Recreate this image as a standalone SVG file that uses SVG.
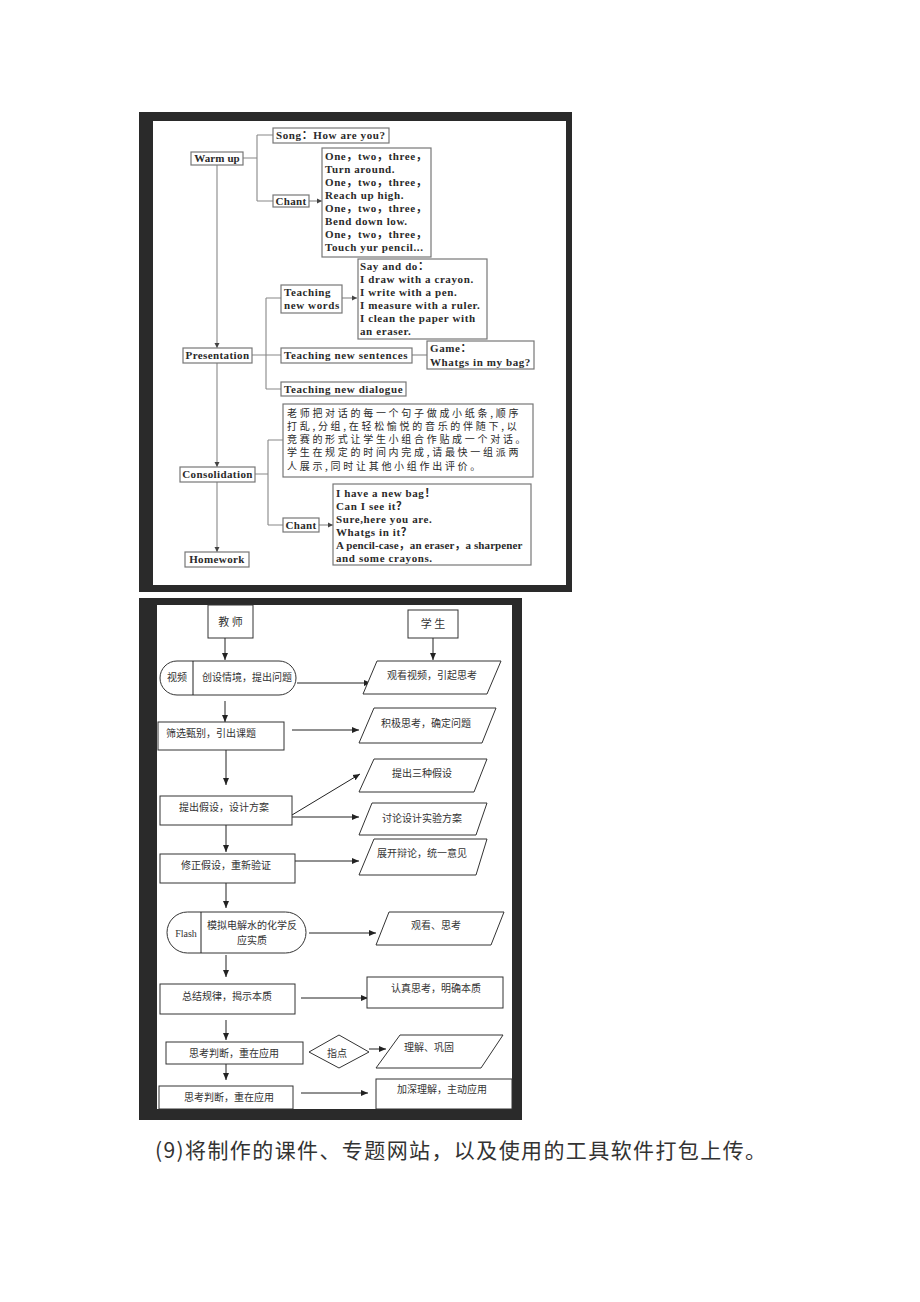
<svg xmlns="http://www.w3.org/2000/svg" width="920" height="1302" viewBox="0 0 920 1302">
<style>
.frame{fill:#2a2a2a}
.paper{fill:#fff}
.tb{fill:#fff;stroke:#777;stroke-width:1.2}
.tl{fill:none;stroke:#888;stroke-width:1.1}
.tt{font-family:"Liberation Serif","Noto Sans CJK SC",serif;font-weight:bold;font-size:11px;fill:#2a2a2a;letter-spacing:0.6px}
.tc{font-family:"Noto Sans CJK SC",sans-serif;font-size:10px;fill:#2a2a2a;letter-spacing:2.7px}
.bb{fill:#fff;stroke:#333;stroke-width:1}
.bl{fill:none;stroke:#222;stroke-width:1}
.bt{font-family:"Noto Sans CJK SC",sans-serif;font-size:10px;fill:#333}
.cap{font-family:"Noto Sans CJK SC",sans-serif;font-size:21px;fill:#333;letter-spacing:1.4px}
</style>
<defs>
<marker id="ta" markerWidth="6" markerHeight="6" refX="5" refY="3" orient="auto" markerUnits="userSpaceOnUse"><path d="M0,0.5 L5,3 L0,5.5 Z" fill="#444"/></marker>
<marker id="ba" markerWidth="8" markerHeight="8" refX="7" refY="4" orient="auto" markerUnits="userSpaceOnUse"><path d="M0,1 L7,4 L0,7 Z" fill="#222"/></marker>
</defs>
<rect width="920" height="1302" fill="#fff"/>
<!-- top frame -->
<rect class="frame" x="139" y="112" width="433" height="480"/>
<rect class="paper" x="153" y="121" width="413" height="464"/>
<g id="connectors-top">
<path class="tl" d="M243,158 H257 M257,135 V201 M257,135 H273 M257,201 H273"/>
<path class="tl" d="M309,201 H322" marker-end="url(#ta)"/>
<path class="tl" d="M217,165 V348" marker-end="url(#ta)"/>
<path class="tl" d="M252,355 H281 M266,298 V389 M266,298 H281 M266,389 H281"/>
<path class="tl" d="M342,298 H357" marker-end="url(#ta)"/>
<path class="tl" d="M412,355 H427"/>
<path class="tl" d="M217,363 V467" marker-end="url(#ta)"/>
<path class="tl" d="M255,474 H268 M268,440 V525 M268,440 H283 M268,525 H283"/>
<path class="tl" d="M319,525 H333" marker-end="url(#ta)"/>
<path class="tl" d="M217,482 V552" marker-end="url(#ta)"/>
</g>
<g id="warmup"><rect class="tb" x="191" y="152" width="52" height="13"/><text class="tt" x="217" y="162" text-anchor="middle" style="letter-spacing:0.1px">Warm up</text></g>
<g id="song"><rect class="tb" x="273" y="128" width="116" height="15"/><text class="tt" x="276" y="139">Song：How are you?</text></g>
<g id="chant1"><rect class="tb" x="273" y="195" width="36" height="12"/><text class="tt" x="291" y="205" text-anchor="middle" style="letter-spacing:0.3px">Chant</text></g>
<g id="chant1-text"><rect class="tb" x="322" y="148" width="109" height="109"/>
<text class="tt" x="325" y="160">One，two，three，</text>
<text class="tt" x="325" y="173">Turn around.</text>
<text class="tt" x="325" y="186">One，two，three，</text>
<text class="tt" x="325" y="199">Reach up high.</text>
<text class="tt" x="325" y="212">One，two，three，</text>
<text class="tt" x="325" y="225">Bend down low.</text>
<text class="tt" x="325" y="238">One，two，three，</text>
<text class="tt" x="325" y="251">Touch yur pencil...</text></g>
<g id="presentation"><rect class="tb" x="183" y="348" width="69" height="15"/><text class="tt" x="217.5" y="359" text-anchor="middle" style="letter-spacing:0.4px">Presentation</text></g>
<g id="tnw"><rect class="tb" x="281" y="285" width="61" height="28"/><text class="tt" x="284" y="296">Teaching</text><text class="tt" x="284" y="309">new words</text></g>
<g id="sayanddo"><rect class="tb" x="358" y="259" width="129" height="80"/>
<text class="tt" x="360" y="270">Say and do：</text>
<text class="tt" x="360" y="283">I draw with a crayon.</text>
<text class="tt" x="360" y="296">I write with a pen.</text>
<text class="tt" x="360" y="309">I measure with a ruler.</text>
<text class="tt" x="360" y="322">I clean the paper with</text>
<text class="tt" x="360" y="335">an eraser.</text></g>
<g id="tns"><rect class="tb" x="281" y="348" width="131" height="15"/><text class="tt" x="284" y="359">Teaching new sentences</text></g>
<g id="game"><rect class="tb" x="427" y="341" width="107" height="28"/><text class="tt" x="430" y="352">Game：</text><text class="tt" x="430" y="366">Whatgs in my bag?</text></g>
<g id="tnd"><rect class="tb" x="281" y="382" width="125" height="14"/><text class="tt" x="284" y="393">Teaching new dialogue</text></g>
<g id="consolidation"><rect class="tb" x="180" y="467" width="75" height="15"/><text class="tt" x="217.5" y="478" text-anchor="middle" style="letter-spacing:0.4px">Consolidation</text></g>
<g id="cn-box"><rect class="tb" x="283" y="404" width="250" height="73"/>
<text class="tc" x="287" y="417">老师把对话的每一个句子做成小纸条,顺序</text>
<text class="tc" x="287" y="430">打乱,分组,在轻松愉悦的音乐的伴随下,以</text>
<text class="tc" x="287" y="443">竞赛的形式让学生小组合作贴成一个对话。</text>
<text class="tc" x="287" y="456">学生在规定的时间内完成,请最快一组派两</text>
<text class="tc" x="287" y="470">人展示,同时让其他小组作出评价。</text></g>
<g id="chant2"><rect class="tb" x="283" y="518" width="36" height="14"/><text class="tt" x="301" y="529" text-anchor="middle" style="letter-spacing:0.3px">Chant</text></g>
<g id="chant2-text"><rect class="tb" x="333" y="484" width="198" height="81"/>
<text class="tt" x="336" y="497">I have a new bag！</text>
<text class="tt" x="336" y="510">Can I see it？</text>
<text class="tt" x="336" y="523">Sure,here you are.</text>
<text class="tt" x="336" y="536">Whatgs in it？</text>
<text class="tt" x="336" y="549" style="letter-spacing:0.1px">A pencil-case，an eraser，a sharpener</text>
<text class="tt" x="336" y="562">and some crayons.</text></g>
<g id="homework"><rect class="tb" x="185" y="552" width="64" height="15"/><text class="tt" x="217" y="563" text-anchor="middle" style="letter-spacing:0.4px">Homework</text></g>

<!-- bottom frame -->
<rect class="frame" x="139" y="598" width="383" height="522"/>
<rect class="paper" x="157" y="605" width="355" height="504"/>
<g id="connectors-bottom">
<path class="bl" d="M225,638 V660" marker-end="url(#ba)"/>
<path class="bl" d="M433,638 V660" marker-end="url(#ba)"/>
<path class="bl" d="M297,683 H371" marker-end="url(#ba)"/>
<path class="bl" d="M225,701 V722" marker-end="url(#ba)"/>
<path class="bl" d="M292,730 H359" marker-end="url(#ba)"/>
<path class="bl" d="M226,750 V785" marker-end="url(#ba)"/>
<path class="bl" d="M292,815 L360,774" marker-end="url(#ba)"/>
<path class="bl" d="M292,817 H359" marker-end="url(#ba)"/>
<path class="bl" d="M226,825 V852" marker-end="url(#ba)"/>
<path class="bl" d="M295,861 H359" marker-end="url(#ba)"/>
<path class="bl" d="M226,883 V908" marker-end="url(#ba)"/>
<path class="bl" d="M309,933 H376" marker-end="url(#ba)"/>
<path class="bl" d="M226,955 V977" marker-end="url(#ba)"/>
<path class="bl" d="M301,998 H368" marker-end="url(#ba)"/>
<path class="bl" d="M226,1020 V1040" marker-end="url(#ba)"/>
<path class="bl" d="M369,1049 H386" marker-end="url(#ba)"/>
<path class="bl" d="M226,1064 V1080" marker-end="url(#ba)"/>
<path class="bl" d="M301,1093 H368" marker-end="url(#ba)"/>
</g>
<g id="teacher"><rect class="bb" x="208" y="605" width="45" height="33"/><text class="bt" x="230.5" y="626" text-anchor="middle" style="font-size:11px">教 师</text></g>
<g id="student"><rect class="bb" x="408" y="610" width="50" height="28"/><text class="bt" x="433" y="628" text-anchor="middle" style="font-size:11px">学 生</text></g>
<g id="video"><rect class="bb" x="160" y="661" width="136" height="34" rx="17"/><path class="bl" d="M193,661 V695"/><text class="bt" x="177" y="681" text-anchor="middle">视频</text><text class="bt" x="247" y="681" text-anchor="middle">创设情境，提出问题</text></g>
<g id="s1"><path class="bb" d="M377,661 H501 L487,694 H363 Z"/><text class="bt" x="432" y="679" text-anchor="middle">观看视频，引起思考</text></g>
<g id="t2"><rect class="bb" x="158" y="722" width="126" height="28"/><text class="bt" x="166" y="737">筛选甄别，引出课题</text></g>
<g id="s2"><path class="bb" d="M374,708 H496 L482,743 H359 Z"/><text class="bt" x="426" y="727" text-anchor="middle">积极思考，确定问题</text></g>
<g id="t3"><rect class="bb" x="160" y="796" width="132" height="29"/><text class="bt" x="224" y="811" text-anchor="middle">提出假设，设计方案</text></g>
<g id="s3a"><path class="bb" d="M374,759 H487 L474,792 H359 Z"/><text class="bt" x="422" y="777" text-anchor="middle">提出三种假设</text></g>
<g id="s3b"><path class="bb" d="M372,803 H487 L476,835 H359 Z"/><text class="bt" x="422" y="822" text-anchor="middle">讨论设计实验方案</text></g>
<g id="t4"><rect class="bb" x="160" y="854" width="135" height="29"/><text class="bt" x="226" y="869" text-anchor="middle">修正假设，重新验证</text></g>
<g id="s4"><path class="bb" d="M374,839 H487 L476,875 H359 Z"/><text class="bt" x="422" y="857" text-anchor="middle">展开辩论，统一意见</text></g>
<g id="flash"><rect class="bb" x="167" y="912" width="139" height="41" rx="20.5"/><path class="bl" d="M201,912 V953"/><text class="bt" x="186" y="937" text-anchor="middle" style="font-family:'Liberation Serif',serif">Flash</text><text class="bt" x="252" y="929" text-anchor="middle">模拟电解水的化学反</text><text class="bt" x="252" y="944" text-anchor="middle">应实质</text></g>
<g id="s5"><path class="bb" d="M389,912 H504 L491,945 H376 Z"/><text class="bt" x="436" y="929" text-anchor="middle">观看、思考</text></g>
<g id="t6"><rect class="bb" x="160" y="984" width="135" height="30"/><text class="bt" x="227" y="1000" text-anchor="middle">总结规律，揭示本质</text></g>
<g id="s6"><rect class="bb" x="367" y="977" width="136" height="31"/><text class="bt" x="436" y="992" text-anchor="middle">认真思考，明确本质</text></g>
<g id="t7"><rect class="bb" x="166" y="1042" width="137" height="22"/><text class="bt" x="234" y="1057" text-anchor="middle">思考判断，重在应用</text></g>
<g id="hint"><path class="bb" d="M309,1052 L339,1035 L369,1052 L339,1068 Z"/><text class="bt" x="337" y="1057" text-anchor="middle">指点</text></g>
<g id="s7"><path class="bb" d="M400,1035 H503 L481,1068 H376 Z"/><text class="bt" x="429" y="1051" text-anchor="middle">理解、巩固</text></g>
<g id="t8"><rect class="bb" x="159" y="1086" width="134" height="23"/><text class="bt" x="229" y="1101" text-anchor="middle">思考判断，重在应用</text></g>
<g id="s8"><rect class="bb" x="376" y="1079" width="136" height="30"/><text class="bt" x="442" y="1093" text-anchor="middle">加深理解，主动应用</text></g>

<text class="cap" x="155" y="1158">(9)将制作的课件、专题网站，以及使用的工具软件打包上传。</text>
</svg>
